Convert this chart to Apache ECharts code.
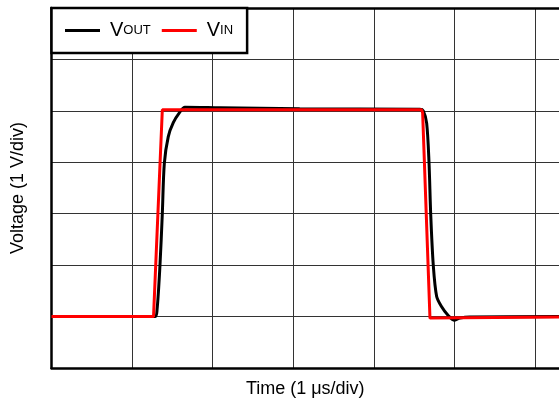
<!DOCTYPE html>
<html>
<head>
<meta charset="utf-8">
<script src="https://cdn.jsdelivr.net/npm/echarts@6/dist/echarts.min.js"></script>
<style>
html,body{margin:0;padding:0;background:#fff;}
#chart{width:559px;height:405px;}
</style>
</head>
<body>
<div id="chart"></div>
<script>
// Time in µs (1 µs/div), voltage in V (1 V/div)
var voutTime = [0, 1.284, 1.309, 1.346, 1.375, 1.40, 1.449, 1.511, 1.586, 1.656, 2.09, 3.08, 4.57, 4.613, 4.655, 4.684, 4.705, 4.737, 4.779, 4.841, 4.917, 4.994, 5.068, 5.19, 6.3];
var voutVolt = [1.0, 1.0, 1.12, 2.0, 3.0, 3.98, 4.5, 4.77, 4.96, 5.07, 5.06, 5.04, 5.03, 5.0, 4.76, 4.0, 3.0, 2.0, 1.39, 1.19, 1.03, 0.93, 0.97, 0.99, 1.0];
var vinTime = [0, 1.266, 1.375, 4.593, 4.605, 4.696, 6.3];
var vinVolt = [1.0, 1.0, 5.02, 5.02, 4.96, 0.97, 0.99];
var seriesNames = ['VOUT', 'VIN'];
var xAxisTitle = 'Time (1 \u03bcs/div)';
var yAxisTitle = 'Voltage (1 V/div)';

function pairs(t, v) { return t.map(function (x, i) { return [x, v[i]]; }); }

var font = 'Liberation Sans, Arial, Helvetica, sans-serif';
var chart = echarts.init(document.getElementById('chart'), null, {renderer: 'canvas'});
var border = {show: true, onZero: false, lineStyle: {color: '#000', width: 2.5}};
chart.setOption({
  animation: false,
  backgroundColor: '#fff',
  grid: {left: 51.5, top: 8, right: 0, bottom: 37},
  legend: {
    left: 51.5, top: 8,
    orient: 'horizontal',
    backgroundColor: '#fff', borderColor: '#000', borderWidth: 2.5, borderRadius: 0,
    padding: [12.5, 14, 12.5, 13.5],
    icon: 'rect',
    itemWidth: 35, itemHeight: 3, itemGap: 11,
    data: seriesNames,
    formatter: function (n) { return '{v|V}{s|' + n.slice(1) + '}'; },
    textStyle: {
      fontFamily: font, color: '#000',
      rich: {
        v: {fontSize: 20, lineHeight: 26, fontFamily: font, color: '#000', padding: [0, 0, 0, 5]},
        s: {fontSize: 13, lineHeight: 14, fontFamily: font, color: '#000'}
      }
    }
  },
  xAxis: [{
    type: 'value', min: 0, max: 6.297, interval: 1, position: 'bottom',
    axisLine: border, axisTick: {show: false}, axisLabel: {show: false},
    splitLine: {show: true, showMaxLine: false, showMinLine: false, lineStyle: {color: '#333', width: 1}},
    name: xAxisTitle, nameLocation: 'middle', nameGap: 12,
    nameTextStyle: {fontFamily: font, fontSize: 18, color: '#000'}
  }, {
    type: 'value', min: 0, max: 6.297, interval: 1, position: 'top',
    axisLine: border, axisTick: {show: false}, axisLabel: {show: false}, splitLine: {show: false}
  }],
  yAxis: {
    type: 'value', min: 0, max: 7, interval: 1,
    axisLine: border, axisTick: {show: false}, axisLabel: {show: false},
    splitLine: {show: true, showMaxLine: false, showMinLine: false, lineStyle: {color: '#333', width: 1}},
    name: yAxisTitle, nameLocation: 'middle', nameGap: 24,
    nameTextStyle: {fontFamily: font, fontSize: 18, color: '#000'}
  },
  series: [
    {name: seriesNames[0], type: 'line', data: pairs(voutTime, voutVolt), symbol: 'none', smooth: 0.3,
     lineStyle: {color: '#000', width: 3}, itemStyle: {color: '#000'}},
    {name: seriesNames[1], type: 'line', data: pairs(vinTime, vinVolt), symbol: 'none',
     lineStyle: {color: '#ff0000', width: 3}, itemStyle: {color: '#ff0000'}}
  ]
});
</script>
</body>
</html>
